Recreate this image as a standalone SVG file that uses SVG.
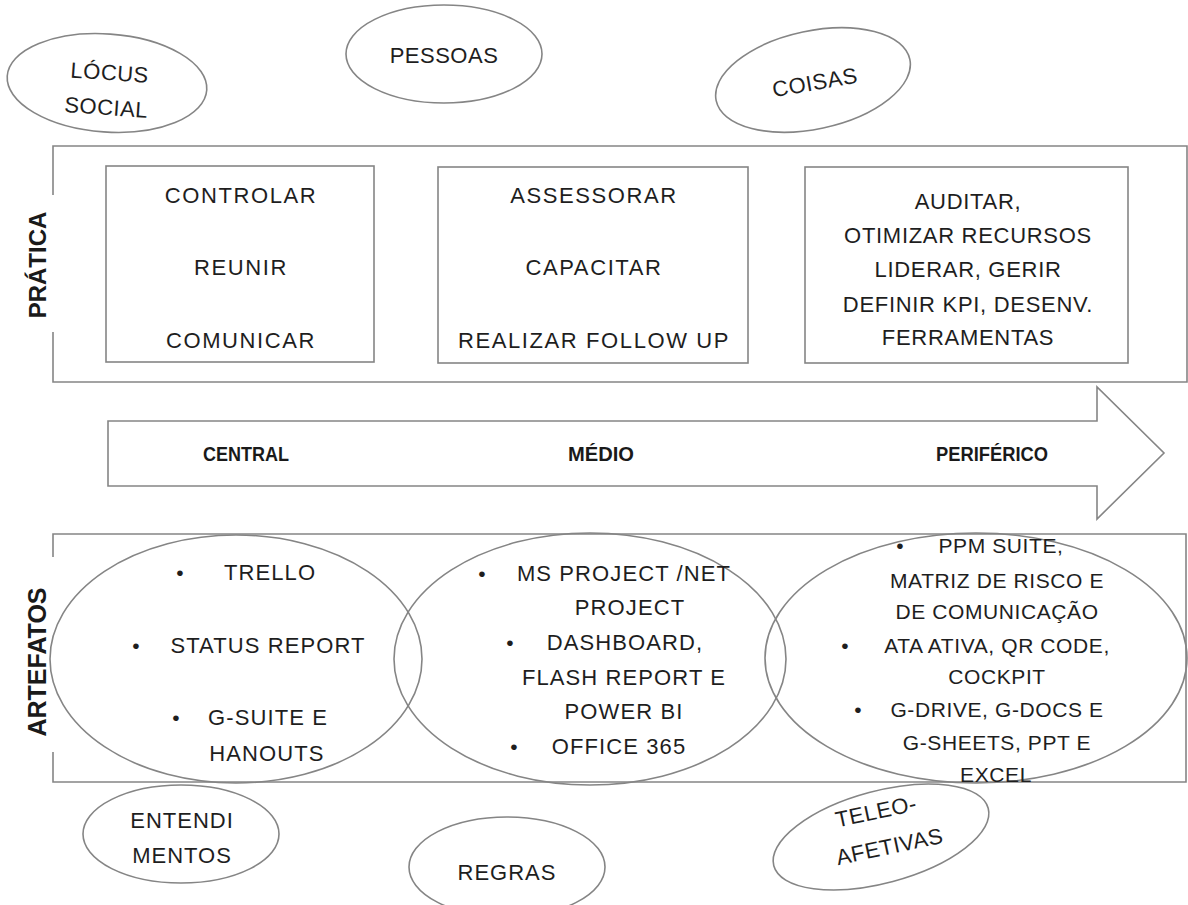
<svg xmlns="http://www.w3.org/2000/svg" width="1188" height="905" viewBox="0 0 1188 905">
<style>
.ln{fill:none;stroke:#858585;stroke-width:1.6}
.fw{fill:#fff;stroke:#858585;stroke-width:1.6}
.t{font-family:"Liberation Sans",Arial,sans-serif;font-size:22px;fill:#1e1e1e;text-anchor:middle}
.tb{letter-spacing:1.6px}
.te1{letter-spacing:1.1px}
.te3{font-size:21px;letter-spacing:0.6px}
.lab{font-family:"Liberation Sans",Arial,sans-serif;font-size:24px;font-weight:bold;fill:#1a1a1a;text-anchor:middle}
.ar{font-family:"Liberation Sans",Arial,sans-serif;font-size:20px;font-weight:bold;fill:#1a1a1a;text-anchor:middle}
.bl{font-family:"Liberation Sans",Arial,sans-serif;font-size:21px;fill:#1e1e1e;text-anchor:middle}
</style>
<rect width="1188" height="905" fill="#fff"/>

<g id="locus-social">
<ellipse class="ln" cx="107" cy="83" rx="100" ry="49" transform="rotate(4 107 83)"/>
<g transform="rotate(4 107 97)">
<text class="t" x="108" y="80" style="letter-spacing:0.5px">LÓCUS</text>
<text class="t" x="107" y="115" style="letter-spacing:0.5px">SOCIAL</text>
</g>
</g>

<g id="pessoas">
<ellipse class="ln" cx="444" cy="54" rx="98" ry="49"/>
<text class="t" x="444" y="63" style="letter-spacing:0.5px">PESSOAS</text>
</g>

<g id="coisas">
<ellipse class="ln" cx="813" cy="80" rx="99" ry="49" transform="rotate(-12 813 80)"/>
<text class="t" x="815" y="90" transform="rotate(-10 815 83)" style="letter-spacing:0.5px">COISAS</text>
</g>

<g id="pratica">
<path class="ln" d="M53 195 V146 H1187 V382 H53 V332"/>
<text class="lab" transform="translate(46 265) rotate(-90)">PRÁTICA</text>
</g>

<g id="box-central">
<rect class="ln" x="106" y="166" width="268" height="196"/>
<text class="t tb" x="241" y="203">CONTROLAR</text>
<text class="t tb" x="241" y="275">REUNIR</text>
<text class="t tb" x="241" y="348">COMUNICAR</text>
</g>

<g id="box-medio">
<rect class="ln" x="438" y="167" width="310" height="196"/>
<text class="t tb" x="594" y="203">ASSESSORAR</text>
<text class="t tb" x="594" y="275">CAPACITAR</text>
<text class="t tb" x="594" y="348">REALIZAR FOLLOW UP</text>
</g>

<g id="box-periferico">
<rect class="ln" x="805" y="167" width="323" height="196"/>
<text class="t" x="968" y="209" style="letter-spacing:0.7px">AUDITAR,</text>
<text class="t" x="968" y="243" style="letter-spacing:0.7px">OTIMIZAR RECURSOS</text>
<text class="t" x="968" y="277" style="letter-spacing:0.7px">LIDERAR, GERIR</text>
<text class="t" x="968" y="312" style="letter-spacing:0.7px">DEFINIR KPI, DESENV.</text>
<text class="t" x="968" y="345" style="letter-spacing:0.7px">FERRAMENTAS</text>
</g>

<g id="arrow">
<polygon class="fw" points="108,421 1097,421 1097,387 1164,453 1097,519 1097,486 108,486"/>
<text class="ar" x="246" y="461" textLength="86" lengthAdjust="spacingAndGlyphs">CENTRAL</text>
<text class="ar" x="601" y="461" textLength="66" lengthAdjust="spacingAndGlyphs">MÉDIO</text>
<text class="ar" x="992" y="461" textLength="112" lengthAdjust="spacingAndGlyphs">PERIFÉRICO</text>
</g>

<g id="artefatos">
<path class="ln" d="M53 557 V534 H1186 V782 H53 V752"/>
<text class="lab" transform="translate(46 662) rotate(-90)" style="font-size:25px">ARTEFATOS</text>
</g>

<g id="artefatos-central">
<ellipse class="ln" cx="236" cy="659" rx="186" ry="124"/>
<text class="bl" x="180" y="580">•</text>
<text class="t te1" x="270" y="580">TRELLO</text>
<text class="bl" x="136" y="653">•</text>
<text class="t te1" x="268" y="653">STATUS REPORT</text>
<text class="bl" x="176" y="725">•</text>
<text class="t te1" x="268" y="725">G-SUITE E</text>
<text class="t te1" x="267" y="761">HANOUTS</text>
</g>

<g id="artefatos-medio">
<ellipse class="ln" cx="590" cy="659" rx="196" ry="126"/>
<text class="bl" x="482" y="581">•</text>
<text class="t te1" x="624" y="581">MS PROJECT /NET</text>
<text class="t te1" x="630" y="615">PROJECT</text>
<text class="bl" x="510" y="650">•</text>
<text class="t te1" x="625" y="650">DASHBOARD,</text>
<text class="t te1" x="624" y="685">FLASH REPORT E</text>
<text class="t te1" x="624" y="719">POWER BI</text>
<text class="bl" x="514" y="754">•</text>
<text class="t te1" x="619" y="754">OFFICE 365</text>
</g>

<g id="artefatos-periferico">
<ellipse class="ln" cx="976" cy="658" rx="211" ry="125"/>
<text class="bl" x="900" y="553">•</text>
<text class="t te3" x="1001" y="553">PPM SUITE,</text>
<text class="t te3" x="997" y="588">MATRIZ DE RISCO E</text>
<text class="t te3" x="997" y="619">DE COMUNICAÇÃO</text>
<text class="bl" x="845" y="653">•</text>
<text class="t te3" x="997" y="653">ATA ATIVA, QR CODE,</text>
<text class="t te3" x="997" y="684">COCKPIT</text>
<text class="bl" x="858" y="717">•</text>
<text class="t te3" x="997" y="717">G-DRIVE, G-DOCS E</text>
<text class="t te3" x="997" y="750">G-SHEETS, PPT E</text>
<text class="t te3" x="996" y="782">EXCEL</text>
</g>

<g id="entendimentos">
<ellipse class="ln" cx="181" cy="834" rx="98" ry="49"/>
<text class="t" x="182" y="828" style="letter-spacing:1px">ENTENDI</text>
<text class="t" x="182" y="863" style="letter-spacing:1px">MENTOS</text>
</g>

<g id="regras">
<ellipse class="ln" cx="507" cy="867" rx="98" ry="50"/>
<text class="t" x="507" y="880" style="letter-spacing:1px">REGRAS</text>
</g>

<g id="teleoafetivas">
<ellipse class="ln" cx="881" cy="837" rx="111" ry="46" transform="rotate(-15 881 837)"/>
<g transform="rotate(-12 883 830)">
<text class="t" x="880" y="818" style="letter-spacing:0.5px">TELEO-</text>
<text class="t" x="886" y="855" style="letter-spacing:0.5px">AFETIVAS</text>
</g>
</g>
</svg>
